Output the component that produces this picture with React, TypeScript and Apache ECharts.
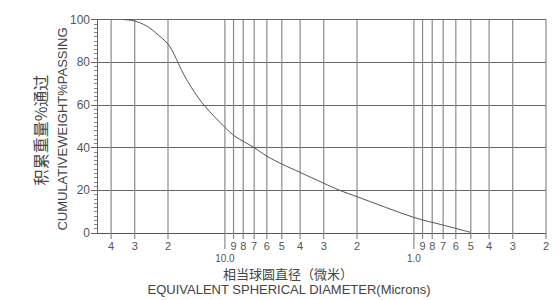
import React, { useEffect, useRef } from "react";
import * as echarts from "echarts";

// Curve: equivalent spherical diameter (microns) vs cumulative weight % passing
const diameters = [34.7, 30, 26, 23.4, 20, 18.4, 16.9, 15.0, 12.8, 10, 8.85, 7, 6, 5, 4, 3, 2.47, 2, 1, 0.7, 0.5];
const passing = [100, 99.3, 97, 94, 88.5, 83, 76, 68, 59.5, 49.5, 45.3, 40, 36, 32.3, 28.4, 23.3, 20, 17, 7.3, 3.7, 0.3];

// Vertical grid lines on the log diameter axis and their labels
const gridDiameters = [40, 30, 20, 10, 9, 8, 7, 6, 5, 4, 3, 2, 1, 0.9, 0.8, 0.7, 0.6, 0.5, 0.4, 0.3, 0.2];
const gridLabels = ["4", "3", "2", "10.0", "9", "8", "7", "6", "5", "4", "3", "2", "1.0", "9", "8", "7", "6", "5", "4", "3", "2"];

const yTicks = [0, 20, 40, 60, 80, 100];

const yNameCn = "积累重量%通过";
const yNameEn = "CUMULATIVEWEIGHT%PASSING";
const xNameCn = "相当球圆直径（微米）";
const xNameEn = "EQUIVALENT SPHERICAL DIAMETER(Microns)";

export default function App() {
  const ref = useRef<HTMLDivElement>(null);

  useEffect(() => {
    if (!ref.current) return;
    const chart = echarts.init(ref.current, undefined, { renderer: "svg" });
    const font = "Liberation Sans, Arial, sans-serif";
    const cjk = "Noto Sans CJK SC, sans-serif";

    chart.setOption({
      animation: false,
      backgroundColor: "#ffffff",
      grid: { left: 97, right: 14, top: 19.5, bottom: 67, containLabel: false },
      xAxis: {
        type: "log",
        inverse: true,
        min: 0.2,
        max: 47.5,
        axisLine: { show: true, lineStyle: { color: "#555", width: 1 } },
        axisTick: { show: false },
        axisLabel: { show: false },
        splitLine: { show: false },
        minorTick: { show: false },
        minorSplitLine: { show: false },
      },
      yAxis: {
        type: "value",
        min: yTicks[0],
        max: yTicks[yTicks.length - 1],
        interval: 20,
        axisLine: { show: true, lineStyle: { color: "#666", width: 1 } },
        axisTick: { show: true, length: 6, lineStyle: { color: "#666" } },
        minorTick: { show: true, splitNumber: 10, length: 3, lineStyle: { color: "#888" } },
        axisLabel: { color: "#555", fontSize: 12, fontFamily: font, margin: 7 },
        splitLine: { show: true, lineStyle: { color: "#666", width: 1 } },
      },
      series: [
        {
          type: "custom",
          silent: true,
          clip: false,
          z: 1,
          data: gridDiameters.map((d, i) => [d, i]),
          encode: { x: 0 },
          renderItem: (params: any, api: any) => {
            const v = api.value(0);
            const idx = api.value(1);
            const top = api.coord([v, 100]);
            const bot = api.coord([v, 0]);
            const decade = v === 10 || v === 1;
            const ext = decade ? 16 : 6;
            return {
              type: "group",
              children: [
                {
                  type: "line",
                  shape: { x1: top[0], y1: top[1], x2: bot[0], y2: bot[1] + ext },
                  style: { stroke: "#8a8a8a", lineWidth: 1.2 },
                },
                {
                  type: "text",
                  x: bot[0],
                  y: decade ? bot[1] + 25 : bot[1] + 13,
                  style: {
                    text: gridLabels[idx],
                    fill: "#555",
                    fontSize: decade ? 10 : 11,
                    fontFamily: font,
                    align: "center",
                    verticalAlign: "middle",
                  },
                },
              ],
            };
          },
        },
        {
          type: "line",
          data: diameters.map((d, i) => [d, passing[i]]),
          smooth: 0.3,
          symbol: "none",
          z: 5,
          lineStyle: { color: "#555", width: 1 },
        },
      ],
      graphic: [
        {
          type: "text",
          x: 40,
          y: 130,
          rotation: Math.PI / 2,
          style: {
            text: yNameCn,
            fill: "#444",
            fontSize: 16,
            fontFamily: cjk,
            align: "center",
            verticalAlign: "middle",
          },
        },
        {
          type: "text",
          x: 62,
          y: 129,
          rotation: Math.PI / 2,
          style: {
            text: yNameEn,
            fill: "#444",
            fontSize: 13,
            fontFamily: font,
            align: "center",
            verticalAlign: "middle",
          },
        },
        {
          type: "text",
          x: 288,
          y: 273,
          style: {
            text: xNameCn,
            fill: "#444",
            fontSize: 13,
            fontFamily: cjk,
            align: "center",
            verticalAlign: "middle",
          },
        },
        {
          type: "text",
          x: 289,
          y: 289,
          style: {
            text: xNameEn,
            fill: "#444",
            fontSize: 13,
            fontFamily: font,
            align: "center",
            verticalAlign: "middle",
          },
        },
      ],
    });

    return () => chart.dispose();
  }, []);

  return <div ref={ref} style={{ width: 560, height: 300, position: "absolute", left: 0, top: 0 }} />;
}
